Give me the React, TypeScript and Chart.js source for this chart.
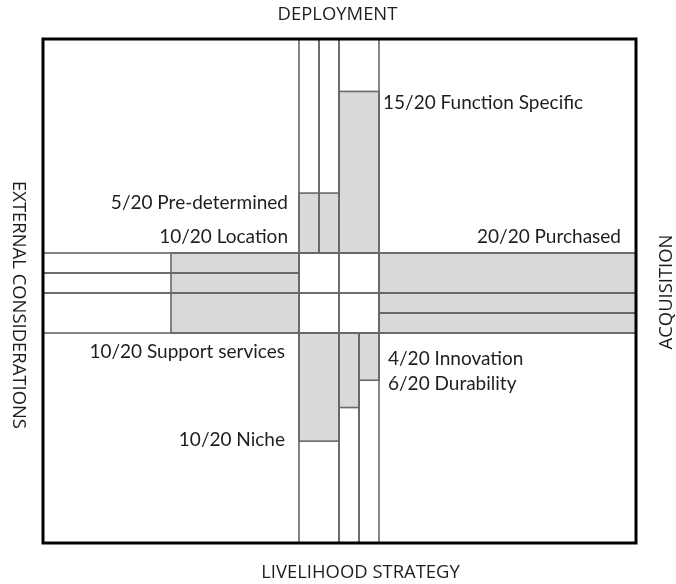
import React, { useEffect, useRef } from "react";
import { Chart, registerables } from "chart.js";

Chart.register(...registerables);

// Strip widths (in centre-cell units) and scores (out of 20) for each arm
const MAX_SCORE = 20;
const TOP_STRIPS = [1, 1, 2]; // left -> right
const TOP_SCORES = [5.6, 5.6, 15.1];
const BOTTOM_STRIPS = [2, 1, 1]; // left -> right
const BOTTOM_SCORES = [10.3, 7.1, 4.5];
const LEFT_STRIPS = [1, 1, 2]; // top -> bottom
const LEFT_SCORES = [10, 10, 10];
const RIGHT_STRIPS = [2, 1, 1]; // top -> bottom
const RIGHT_SCORES = [20, 20, 20];

const CENTER = 4; // centre square size in units
const X_RANGE = [-12.8, 16.85];
const Y_RANGE = [-10.7, 14.5];

const AXIS_TITLES = ["DEPLOYMENT", "LIVELIHOOD STRATEGY", "EXTERNAL CONSIDERATIONS", "ACQUISITION"];
const TOP_LABELS = ["5/20 Pre-determined", "15/20 Function Specific"];
const LEFT_LABELS = ["10/20 Location", "10/20 Support services"];
const RIGHT_LABELS = ["20/20 Purchased"];
const BOTTOM_LABELS = ["10/20 Niche", "6/20 Durability", "4/20 Innovation"];

const FILL = "#d9d9d9";
const LINE = "#686868";
const FONT = "Lato, 'Open Sans', sans-serif";

const diagramPlugin = {
  id: "diagram",
  afterDatasetsDraw(chart: any) {
    const ctx = chart.ctx as CanvasRenderingContext2D;
    const xs = chart.scales.x;
    const ys = chart.scales.y;
    const px = (v: number) => xs.getPixelForValue(v);
    const py = (v: number) => ys.getPixelForValue(v);
    const area = chart.chartArea;
    const topLen = -Y_RANGE[0];
    const botLen = Y_RANGE[1] - CENTER;
    const leftLen = -X_RANGE[0];
    const rightLen = X_RANGE[1] - CENTER;

    type R = [number, number, number, number]; // x0,y0,x1,y1 in data units
    const fills: R[] = [];
    const outlines: R[] = [];

    let c = 0;
    TOP_STRIPS.forEach((w, i) => {
      outlines.push([c, Y_RANGE[0], c + w, 0]);
      fills.push([c, -(TOP_SCORES[i] / MAX_SCORE) * topLen, c + w, 0]);
      c += w;
    });
    c = 0;
    BOTTOM_STRIPS.forEach((w, i) => {
      outlines.push([c, CENTER, c + w, Y_RANGE[1]]);
      fills.push([c, CENTER, c + w, CENTER + (BOTTOM_SCORES[i] / MAX_SCORE) * botLen]);
      c += w;
    });
    c = 0;
    LEFT_STRIPS.forEach((w, i) => {
      outlines.push([X_RANGE[0], c, 0, c + w]);
      fills.push([-(LEFT_SCORES[i] / MAX_SCORE) * leftLen, c, 0, c + w]);
      c += w;
    });
    c = 0;
    RIGHT_STRIPS.forEach((w, i) => {
      outlines.push([CENTER, c, X_RANGE[1], c + w]);
      fills.push([CENTER, c, CENTER + (RIGHT_SCORES[i] / MAX_SCORE) * rightLen, c + w]);
      c += w;
    });
    // centre square as 2x2 cells
    const h = CENTER / 2;
    outlines.push([0, 0, h, h], [h, 0, CENTER, h], [0, h, h, CENTER], [h, h, CENTER, CENTER]);

    const rect = (r: R) => {
      const x0 = px(r[0]);
      const x1 = px(r[2]);
      const y0 = py(r[1]);
      const y1 = py(r[3]);
      return [Math.min(x0, x1), Math.min(y0, y1), Math.abs(x1 - x0), Math.abs(y1 - y0)];
    };

    ctx.save();
    ctx.fillStyle = FILL;
    fills.forEach((r) => {
      const [x, y, w, hh] = rect(r);
      ctx.fillRect(x, y, w, hh);
    });
    ctx.strokeStyle = LINE;
    ctx.lineWidth = 1.6;
    outlines.concat(fills).forEach((r) => {
      const [x, y, w, hh] = rect(r);
      ctx.strokeRect(x, y, w, hh);
    });
    // outer frame
    ctx.strokeStyle = "#000";
    ctx.lineWidth = 3;
    ctx.strokeRect(area.left, area.top, area.right - area.left, area.bottom - area.top);

    // labels
    ctx.fillStyle = "#1e1e1e";
    ctx.font = "19px " + FONT;
    ctx.textBaseline = "middle";
    const cx0 = px(0);
    const cx1 = px(CENTER);
    const cy0 = py(0);
    const cy1 = py(CENTER);
    const topGray0 = py(-(TOP_SCORES[0] / MAX_SCORE) * topLen);
    const topGray2 = py(-(TOP_SCORES[2] / MAX_SCORE) * topLen);
    const nicheEnd = py(CENTER + (BOTTOM_SCORES[0] / MAX_SCORE) * botLen);

    ctx.textAlign = "right";
    ctx.fillText(TOP_LABELS[0], cx0 - 11, topGray0 + 10);
    ctx.fillText(LEFT_LABELS[0], cx0 - 11, cy0 - 16);
    ctx.fillText(LEFT_LABELS[1], cx0 - 14, cy1 + 19);
    ctx.fillText(BOTTOM_LABELS[0], cx0 - 14, nicheEnd - 1);
    ctx.fillText(RIGHT_LABELS[0], area.right - 15, cy0 - 16);
    ctx.textAlign = "left";
    ctx.fillText(TOP_LABELS[1], cx1 + 4, topGray2 + 11);
    ctx.fillText(BOTTOM_LABELS[2], cx1 + 9, cy1 + 26);
    ctx.fillText(BOTTOM_LABELS[1], cx1 + 9, cy1 + 51);

    // axis titles (condensed look)
    ctx.font = "19px 'Open Sans', sans-serif";
    ctx.textAlign = "center";
    const midX = (area.left + area.right) / 2;
    const cond = (text: string, x: number, y: number, rot: number) => {
      ctx.save();
      ctx.translate(x, y);
      ctx.rotate(rot);
      ctx.scale(0.97, 1);
      ctx.fillText(text, 0, 0);
      ctx.restore();
    };
    cond(AXIS_TITLES[0], midX - 2, 15, 0);
    cond(AXIS_TITLES[1], midX + 21, 573, 0);
    cond(AXIS_TITLES[2], 18, 305, Math.PI / 2);
    cond(AXIS_TITLES[3], 667, 292, -Math.PI / 2);
    ctx.restore();
  },
};

export default function App() {
  const ref = useRef<HTMLCanvasElement | null>(null);
  useEffect(() => {
    document.body.style.margin = "0";
    const chart = new Chart(ref.current as HTMLCanvasElement, {
      type: "scatter",
      data: { datasets: [{ data: [], showLine: false }] },
      options: {
        animation: false,
        responsive: false,
        layout: { padding: { left: 43, right: 40, top: 39, bottom: 41 } },
        plugins: { legend: { display: false }, tooltip: { enabled: false } },
        scales: {
          x: { type: "linear", min: X_RANGE[0], max: X_RANGE[1], display: false },
          y: { type: "linear", min: Y_RANGE[0], max: Y_RANGE[1], reverse: true, display: false },
        },
      },
      plugins: [diagramPlugin],
    });
    return () => chart.destroy();
  }, []);
  return (
    <div style={{ width: 676, height: 584, background: "#fff" }}>
      <canvas ref={ref} width={676} height={584} />
    </div>
  );
}
